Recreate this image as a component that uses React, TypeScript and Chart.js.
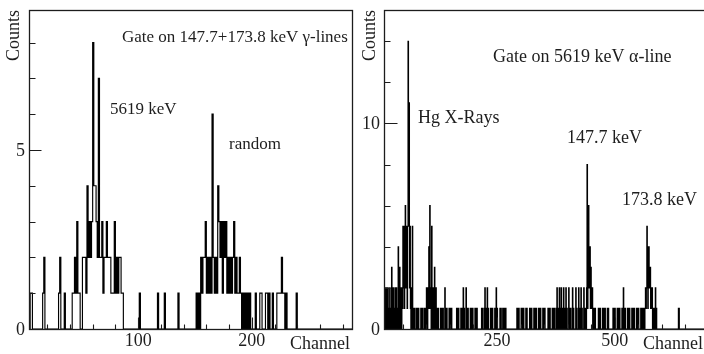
import React, { useEffect, useRef } from "react";
import { Chart, registerables } from "chart.js";

Chart.register(...registerables);

const FONT = "'Liberation Serif', 'Times New Roman', serif";

// ---------------- Left panel: gate on gamma lines ----------------
const leftAlphaCluster: [number, number][] = [
  [5, 1], [6, 1], [16, 1], [17, 2], [30, 1], [31, 2], [35, 1],
  [42, 1], [43, 1], [44, 2], [45, 1], [46, 3], [47, 1], [48, 1],
  [51, 2], [52, 2], [53, 2], [54, 1], [55, 4], [56, 2], [57, 3], [58, 2], [59, 3],
  [60, 8], [61, 4], [62, 4], [63, 3], [64, 2], [65, 7], [66, 2], [67, 2], [68, 3],
  [69, 1], [70, 2], [71, 2], [72, 3], [73, 2], [74, 2], [75, 2], [76, 1], [77, 1],
  [78, 1], [79, 3], [80, 1], [81, 2], [82, 1], [83, 2], [84, 2], [85, 1], [86, 1],
];
const leftSparse: [number, number][] = [
  [101, 1], [117, 1], [123, 1], [135, 1],
];
const leftRandomCluster: [number, number][] = [
  [151, 1], [153, 1], [155, 2], [156, 1], [157, 2], [158, 2], [159, 3], [160, 1],
  [161, 2], [162, 1], [163, 2], [164, 1], [165, 6], [166, 2], [167, 1], [168, 2],
  [169, 1], [170, 4], [171, 3], [172, 2], [173, 3], [174, 1], [175, 3], [176, 2],
  [177, 3], [178, 1], [179, 2], [180, 1], [181, 2], [182, 1], [183, 2], [184, 3],
  [185, 1], [186, 2], [187, 1], [188, 1], [189, 2], [190, 1], [192, 1], [194, 1],
  [196, 1], [198, 1], [203, 1], [207, 1], [208, 1], [212, 1], [213, 1], [215, 1],
  [218, 1], [222, 1], [223, 1], [224, 1], [225, 1], [226, 2], [227, 1], [228, 1],
  [230, 1], [239, 1],
];
const leftXRange = [4, 289];
const leftYMax = 8.91;
const leftXTicks = [20, 40, 60, 80, 100, 120, 140, 160, 180, 200, 220, 240, 260, 280];
const leftXLabels = [100, 200];
const leftYTicks = [0, 1, 2, 3, 4, 5, 6, 7, 8];
const leftYLabels = [0, 5];

// ---------------- Right panel: gate on alpha line ----------------
const rightXrayRegion: [number, number][] = [
  [10, 1], [12, 2], [13, 1], [15, 2], [17, 1], [18, 2], [20, 1], [22, 2], [24, 1],
  [26, 3], [28, 1], [29, 2], [31, 1], [33, 2], [35, 1], [36, 2], [38, 1], [40, 4],
  [41, 1], [43, 3], [45, 2], [46, 1], [48, 2], [49, 1], [50, 5], [51, 2], [52, 5],
  [53, 1], [54, 5], [55, 6], [56, 2], [57, 5], [58, 5], [59, 1], [60, 5], [61, 14],
  [62, 5], [63, 11], [64, 2], [65, 5], [66, 1], [68, 2], [70, 5], [71, 1],
  [73, 1], [75, 1], [79, 1], [81, 1], [83, 1], [88, 1], [90, 1], [92, 1], [96, 1],
  [98, 1],
  [100, 2], [101, 1], [103, 2], [104, 1], [105, 4], [106, 1], [107, 6], [108, 2],
  [109, 1], [111, 5], [112, 2], [114, 2], [115, 1], [117, 3], [118, 1], [120, 2],
];
const rightTwos: [number, number][] = [
  [139, 2], [178, 2], [184, 2], [224, 2], [229, 2], [248, 2], [518, 2],
];
const rightSingles = [
  121, 123, 125, 130, 132, 133, 135, 141, 143, 148, 150, 151, 153,
  164, 166, 168, 173, 175, 176, 180, 186, 188, 193, 195, 197, 198,
  203, 205, 207, 217, 219, 223, 226, 227, 231, 236, 238, 240, 245, 247, 250,
  256, 258, 262, 264, 266, 268,
  292, 294, 296, 301, 303, 304, 306, 311, 313, 319, 321, 323, 328, 330, 331, 333,
  338, 340, 342, 347, 349, 351, 358, 360, 362, 367, 369, 370, 372, 376,
  454, 456, 458, 465, 467, 469, 474, 476, 478, 479, 484, 486, 496, 498, 500,
  505, 507, 509, 510, 515, 520, 522, 527, 529, 531, 536, 538, 540, 541,
  546, 548, 550, 555, 557, 559, 560, 635, 636,
];
const rightGammaRegion: [number, number][] = [
  [377, 2], [379, 1], [382, 2], [384, 1], [386, 2], [389, 1], [391, 2], [393, 1],
  [396, 2], [398, 1], [402, 2], [404, 1], [406, 1], [410, 2], [412, 1], [417, 2],
  [419, 1], [423, 2], [425, 1], [428, 2], [430, 1], [434, 2],
  [436, 1], [438, 1], [440, 2], [441, 8], [442, 1], [443, 6], [444, 6], [445, 2],
  [446, 4], [447, 4], [448, 1], [449, 3], [450, 1], [451, 2], [452, 2],
  [562, 1], [564, 1], [565, 2], [566, 1], [567, 2], [568, 5], [569, 2], [570, 1],
  [571, 4], [572, 4], [573, 2], [574, 3], [575, 3], [576, 1], [577, 2], [578, 1],
  [579, 2], [581, 1], [583, 1], [586, 2], [588, 1],
];
const rightXRange = [10, 700];
const rightYMax = 15.52;
const rightXTicks = [50, 100, 150, 200, 250, 300, 350, 400, 450, 500, 550, 600, 650];
const rightXLabels = [250, 500];
const rightYTicks = [0, 2, 4, 6, 8, 10, 12, 14];
const rightYLabels = [0, 10];

type Note = { text: string; x: number; y: number; size: number };

const leftNotes: Note[] = [
  { text: "Gate on 147.7+173.8 keV \u03b3-lines", x: 122, y: 38, size: 17 },
  { text: "5619 keV", x: 110, y: 110, size: 17 },
  { text: "random", x: 229, y: 145, size: 17 },
];
const rightNotes: Note[] = [
  { text: "Gate on 5619 keV \u03b1-line", x: 138, y: 57, size: 18 },
  { text: "Hg X-Rays", x: 63, y: 118, size: 18 },
  { text: "147.7 keV", x: 212, y: 138, size: 18 },
  { text: "173.8 keV", x: 267, y: 200, size: 18 },
];

type Spec = {
  bins: [number, number][];
  xRange: number[];
  yMax: number;
  xTicks: number[];
  xLabels: number[];
  yTicks: number[];
  yLabels: number[];
  notes: Note[];
  canvasLeft: number;
  width: number;
  padding: { left: number; right: number; top: number; bottom: number };
  channelX: number;
  countsX: number;
  yMajor: number;
  yMinor: number;
};

function histogram(bins: [number, number][], range: number[]) {
  const map = new Map<number, number>();
  bins.forEach(([c, n]) => map.set(c, n));
  const pts: { x: number; y: number }[] = [];
  for (let c = Math.floor(range[0]) - 1; c <= Math.ceil(range[1]) + 1; c++) {
    pts.push({ x: c, y: map.get(c) ?? 0 });
  }
  return pts;
}

const leftSpec: Spec = {
  bins: [...leftAlphaCluster, ...leftSparse, ...leftRandomCluster],
  xRange: leftXRange,
  yMax: leftYMax,
  xTicks: leftXTicks,
  xLabels: leftXLabels,
  yTicks: leftYTicks,
  yLabels: leftYLabels,
  notes: leftNotes,
  canvasLeft: 0,
  width: 362,
  padding: { left: 29, right: 9, top: 10, bottom: 25 },
  channelX: 290,
  countsX: 14,
  yMajor: 12,
  yMinor: 6,
};

const rightSpec: Spec = {
  bins: [
    ...rightXrayRegion,
    ...rightTwos,
    ...rightSingles.map((c) => [c, 1] as [number, number]),
    ...rightGammaRegion,
  ],
  xRange: rightXRange,
  yMax: rightYMax,
  xTicks: rightXTicks,
  xLabels: rightXLabels,
  yTicks: rightYTicks,
  yLabels: rightYLabels,
  notes: rightNotes,
  canvasLeft: 355,
  width: 365,
  padding: { left: 29, right: 11, top: 10, bottom: 25 },
  channelX: 288,
  countsX: 15,
  yMajor: 13,
  yMinor: 6,
};

function makePlugin(spec: Spec) {
  return {
    id: "panelDecor",
    afterDatasetsDraw(chart: any) {
      const { ctx, chartArea: a, scales } = chart;
      const xs = scales.x;
      const ys = scales.y;
      ctx.save();
      // frame
      ctx.strokeStyle = "#1c1c1c";
      ctx.lineWidth = 1.3;
      const L = Math.round(a.left) + 0.5;
      const T = Math.round(a.top) + 0.5;
      const R = Math.round(a.right) - 0.5;
      const B = Math.round(a.bottom) + 0.5;
      ctx.strokeRect(L, T, R - L, B - T);
      // inner ticks
      ctx.lineWidth = 1.1;
      ctx.beginPath();
      spec.yTicks.forEach((v) => {
        const y = Math.round(ys.getPixelForValue(v)) + 0.5;
        const len = spec.yLabels.includes(v) ? spec.yMajor : spec.yMinor;
        ctx.moveTo(L, y);
        ctx.lineTo(L + len, y);
      });
      spec.xTicks.forEach((v) => {
        const x = Math.round(xs.getPixelForValue(v)) + 0.5;
        const len = spec.xLabels.includes(v) ? 12 : 5;
        ctx.moveTo(x, B);
        ctx.lineTo(x, B - len);
      });
      ctx.stroke();
      // tick labels
      ctx.fillStyle = "#1e1e1e";
      ctx.font = `18px ${FONT}`;
      ctx.textBaseline = "middle";
      ctx.textAlign = "right";
      spec.yLabels.forEach((v) => {
        ctx.fillText(String(v), a.left - 4, ys.getPixelForValue(v) + 1);
      });
      ctx.textAlign = "center";
      spec.xLabels.forEach((v) => {
        ctx.fillText(String(v), xs.getPixelForValue(v), a.bottom + 12);
      });
      // axis titles
      ctx.textAlign = "left";
      ctx.fillText("Channel", spec.channelX, a.bottom + 15);
      ctx.save();
      ctx.translate(spec.countsX, a.top);
      ctx.rotate(-Math.PI / 2);
      ctx.font = `18px ${FONT}`;
      ctx.textAlign = "right";
      ctx.fillText("Counts", 0, 0);
      ctx.restore();
      // annotations
      spec.notes.forEach((n) => {
        ctx.font = `${n.size}px ${FONT}`;
        ctx.textAlign = "left";
        ctx.textBaseline = "middle";
        ctx.fillText(n.text, n.x, n.y);
      });
      ctx.restore();
    },
  };
}

function Panel({ spec }: { spec: Spec }) {
  const ref = useRef<HTMLCanvasElement | null>(null);
  useEffect(() => {
    if (!ref.current) return;
    const chart = new Chart(ref.current, {
      type: "line",
      data: {
        datasets: [
          {
            data: histogram(spec.bins, spec.xRange),
            stepped: "before",
            borderColor: "#000",
            borderWidth: 1.15,
            pointRadius: 0,
            fill: false,
            tension: 0,
          } as any,
        ],
      },
      options: {
        animation: false,
        responsive: false,
        devicePixelRatio: 1,
        layout: { padding: spec.padding },
        plugins: { legend: { display: false }, tooltip: { enabled: false } },
        scales: {
          x: { type: "linear", min: spec.xRange[0], max: spec.xRange[1], display: false },
          y: { type: "linear", min: 0, max: spec.yMax, display: false },
        },
      } as any,
      plugins: [makePlugin(spec) as any],
    });
    return () => chart.destroy();
  }, [spec]);
  return (
    <canvas
      ref={ref}
      width={spec.width}
      height={354}
      style={{ position: "absolute", left: spec.canvasLeft, top: 0, width: spec.width, height: 354 }}
    />
  );
}

export default function App() {
  return (
    <div
      style={{
        position: "fixed",
        left: 0,
        top: 0,
        width: 704,
        height: 354,
        overflow: "hidden",
        background: "#fff",
      }}
    >
      <Panel spec={leftSpec} />
      <Panel spec={rightSpec} />
    </div>
  );
}
